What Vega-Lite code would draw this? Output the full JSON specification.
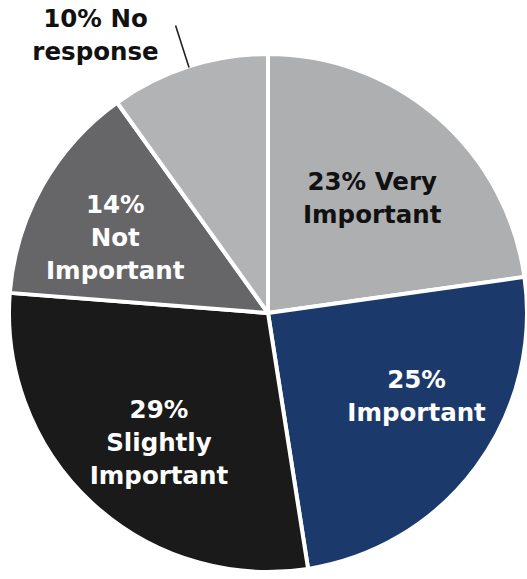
{
  "$schema": "https://vega.github.io/schema/vega-lite/v6.json",
  "width": 514,
  "height": 532,
  "autosize": "none",
  "padding": {"left": 11, "top": 47, "right": 2, "bottom": 0},
  "background": "white",
  "view": {"stroke": null},
  "data": {
    "values": [
      {"cat": "Very Important", "pct": 23, "label": "23% Very\nImportant"},
      {"cat": "Important", "pct": 25, "label": "25%\nImportant"},
      {"cat": "Slightly Important", "pct": 29, "label": "29%\nSlightly\nImportant"},
      {"cat": "Not Important", "pct": 14, "label": "14%\nNot\nImportant"},
      {"cat": "No response", "pct": 10, "label": "10% No\nresponse"}
    ]
  },
  "transform": [{"window": [{"op": "row_number", "as": "idx"}]}],
  "encoding": {
    "theta": {"field": "pct", "type": "quantitative", "stack": true},
    "order": {"field": "idx", "type": "quantitative"}
  },
  "layer": [
    {
      "mark": {"type": "arc", "radius": 259, "stroke": "white", "strokeWidth": 4, "strokeJoin": "round"},
      "encoding": {
        "color": {
          "field": "cat", "type": "nominal",
          "scale": {
            "domain": ["Very Important", "Important", "Slightly Important", "Not Important", "No response"],
            "range": ["#aeafb1", "#1c396c", "#1a1a1a", "#666668", "#b2b3b5"]
          },
          "legend": null
        }
      }
    },
    {
      "mark": {"type": "arc", "radius": 302, "radius2": 258, "padAngle": 1.2, "fillOpacity": 0, "stroke": "#222222", "strokeWidth": 1.6},
      "encoding": {
        "color": {
          "field": "cat", "type": "nominal",
          "scale": {
            "domain": ["Very Important", "Important", "Slightly Important", "Not Important", "No response"],
            "range": ["#aeafb1", "#1c396c", "#1a1a1a", "#666668", "#b2b3b5"]
          },
          "legend": null
        },
        "opacity": {"condition": {"test": "datum.cat === 'No response'", "value": 1}, "value": 0}
      }
    },
    {
      "mark": {
        "type": "text", "radius": 165, "font": "DejaVu Sans", "fontWeight": "bold", "fontSize": 24.5,
        "lineHeight": 33, "lineBreak": "\n", "align": "center", "baseline": "middle",
        "dx": {"expr": "datum.cat === 'Very Important' ? -4 : datum.cat === 'Important' ? 16 : datum.cat === 'Slightly Important' ? 3 : datum.cat === 'Not Important' ? -9 : -122"},
        "dy": {"expr": "datum.cat === 'Very Important' ? -5 : datum.cat === 'Important' ? -30 : datum.cat === 'Slightly Important' ? -23 : datum.cat === 'Not Important' ? -26 : -136"}
      },
      "encoding": {
        "text": {"field": "label", "type": "nominal"},
        "color": {
          "field": "cat", "type": "nominal",
          "scale": {
            "domain": ["Very Important", "Important", "Slightly Important", "Not Important", "No response"],
            "range": ["#111111", "#ffffff", "#ffffff", "#ffffff", "#111111"]
          },
          "legend": null
        }
      }
    }
  ],
  "resolve": {"scale": {"color": "independent"}}
}
